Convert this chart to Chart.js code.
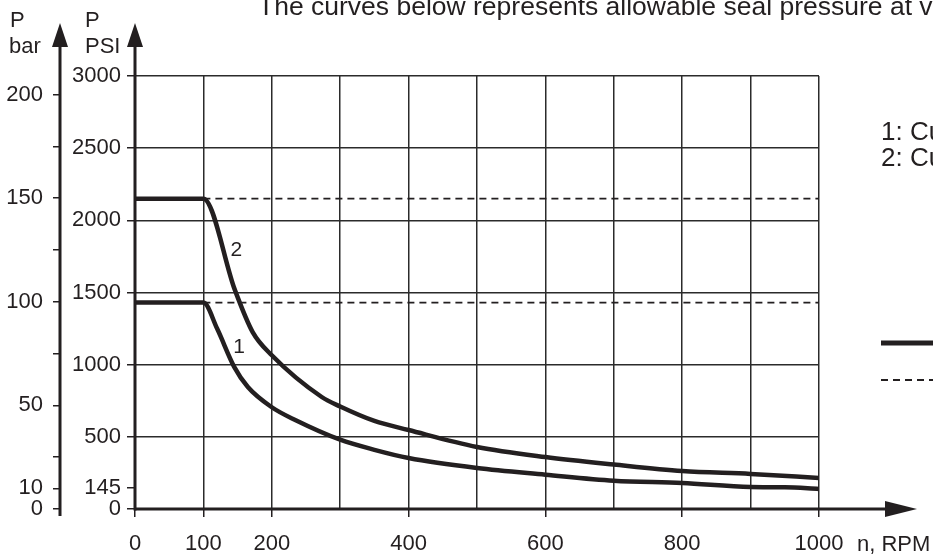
<!DOCTYPE html>
<html>
<head>
<meta charset="utf-8">
<script src="https://cdn.jsdelivr.net/npm/chart.js@4.4.1/dist/chart.umd.min.js"></script>
<style>
  html, body { margin: 0; padding: 0; background: #ffffff; }
  #wrap { width: 933px; height: 556px; position: relative; }
</style>
</head>
<body>
<div id="wrap"><canvas id="pressure-chart"></canvas></div>
<script>
// values
const rpm1 = [0, 100, 120, 145, 165, 200, 235, 300, 350, 400, 500, 600, 700, 800, 900, 950, 1000];
const psi1 = [1430, 1430, 1250, 985, 845, 705, 615, 480, 410, 353, 284, 238, 196, 180, 152, 150, 139];

const rpm2 = [0, 100, 146, 172, 200, 273, 300, 350, 400, 500, 600, 700, 800, 900, 1000];
const psi2 = [2150, 2150, 1518, 1226, 1065, 776, 710, 610, 547, 430, 360, 308, 263, 243, 215];

// dashed limit levels (PSI), drawn from 100 to 1000 RPM
const limitPsi = [1430, 2150];
const limitRpm = [100, 1000];

const xLabelled = [0, 100, 200, 400, 600, 800, 1000];
const psiTicks = [0, 145, 500, 1000, 1500, 2000, 2500, 3000];
const barTicks = [0, 10, 25, 50, 75, 100, 125, 150, 175, 200];
const barLabelled = [0, 10, 50, 100, 150, 200];

const curveTags = ['1', '2'];
const curveTagRpm = [152, 148];
const curveTagPsi = [1123, 1795];

const titleText = 'The curves below represents allowable seal pressure at v';
const legendTexts = ['1: Cu', '2: Cu'];

const INK = '#231f20';
const FONT = "'Liberation Sans', Arial, sans-serif";

function toPoints(xs, ys) {
  return xs.map((x, i) => ({ x: x, y: ys[i] }));
}

function arrow(ctx, tipX, tipY, dir) {
  ctx.beginPath();
  if (dir === 'up') {
    ctx.moveTo(tipX, tipY);
    ctx.lineTo(tipX - 8, tipY + 24);
    ctx.lineTo(tipX + 8, tipY + 24);
  } else {
    ctx.moveTo(tipX, tipY);
    ctx.lineTo(tipX - 32, tipY - 8);
    ctx.lineTo(tipX - 32, tipY + 8);
  }
  ctx.closePath();
  ctx.fill();
}

// axes with arrows, axis titles, curve numbers, clipped legend and title
const decorations = {
  id: 'decorations',
  afterDraw(chart) {
    const ctx = chart.ctx;
    const area = chart.chartArea;
    const xs = chart.scales.x;
    const ys = chart.scales.y;
    const barX = chart.scales.yBar.right;
    ctx.save();
    ctx.strokeStyle = INK;
    ctx.fillStyle = INK;
    ctx.lineWidth = 3;
    ctx.setLineDash([]);

    // PSI axis
    ctx.beginPath();
    ctx.moveTo(area.left, 44);
    ctx.lineTo(area.left, area.bottom + 1.5);
    ctx.stroke();
    arrow(ctx, area.left, 23, 'up');

    // bar axis
    ctx.beginPath();
    ctx.moveTo(barX, 44);
    ctx.lineTo(barX, area.bottom + 7);
    ctx.stroke();
    arrow(ctx, barX, 23, 'up');

    // RPM axis
    ctx.beginPath();
    ctx.moveTo(area.left, area.bottom);
    ctx.lineTo(888, area.bottom);
    ctx.stroke();
    arrow(ctx, 917, area.bottom, 'right');

    ctx.font = '22px ' + FONT;
    ctx.textBaseline = 'alphabetic';
    ctx.textAlign = 'left';
    ctx.fillText('P', 10, 27);
    ctx.fillText('bar', 9, 53);
    ctx.fillText('P', 85, 27);
    ctx.fillText('PSI', 85, 53);
    ctx.fillText('n, RPM', 857, 551);

    ctx.font = '26.5px ' + FONT;
    ctx.fillText(titleText, 258, 15);
    ctx.font = '26px ' + FONT;
    ctx.fillText(legendTexts[0], 881, 140);
    ctx.fillText(legendTexts[1], 881, 166);

    // curve numbers
    ctx.font = '21px ' + FONT;
    ctx.textAlign = 'center';
    ctx.textBaseline = 'middle';
    curveTags.forEach((t, i) => {
      ctx.fillText(t, xs.getPixelForValue(curveTagRpm[i]), ys.getPixelForValue(curveTagPsi[i]));
    });

    // legend line samples (cut by the right edge)
    ctx.lineWidth = 5;
    ctx.beginPath();
    ctx.moveTo(881, 343);
    ctx.lineTo(940, 343);
    ctx.stroke();
    ctx.lineWidth = 1.8;
    ctx.setLineDash([7, 5]);
    ctx.beginPath();
    ctx.moveTo(881, 380);
    ctx.lineTo(940, 380);
    ctx.stroke();
    ctx.restore();
  }
};

const curveStyle = {
  borderColor: INK,
  borderWidth: 4.5,
  pointRadius: 0,
  fill: false,
  cubicInterpolationMode: 'monotone'
};

const limitStyle = {
  borderColor: INK,
  borderWidth: 1.8,
  borderDash: [7, 5],
  pointRadius: 0,
  fill: false
};

const tickFont = { family: FONT, size: 22 };

new Chart(document.getElementById('pressure-chart'), {
  type: 'line',
  data: {
    datasets: [
      { ...limitStyle, label: 'limit 1', data: toPoints(limitRpm, [limitPsi[0], limitPsi[0]]) },
      { ...limitStyle, label: 'limit 2', data: toPoints(limitRpm, [limitPsi[1], limitPsi[1]]) },
      { ...curveStyle, label: 'Curve 1', data: toPoints(rpm1, psi1) },
      { ...curveStyle, label: 'Curve 2', data: toPoints(rpm2, psi2) }
    ]
  },
  options: {
    responsive: true,
    maintainAspectRatio: false,
    animation: false,
    layout: { padding: { top: 76, right: 114, bottom: 0, left: 0 } },
    plugins: { legend: { display: false }, tooltip: { enabled: false } },
    scales: {
      x: {
        type: 'linear',
        min: 0,
        max: 1000,
        border: { display: false },
        ticks: {
          stepSize: 100,
          color: INK,
          font: tickFont,
          padding: 14,
          maxRotation: 0,
          autoSkip: false,
          callback: v => xLabelled.includes(v) ? String(v) : ''
        },
        grid: {
          color: '#2b2b2b',
          lineWidth: 1.5,
          tickLength: 8,
          tickColor: c => (c.tick && xLabelled.includes(c.tick.value)) ? INK : 'rgba(0,0,0,0)'
        },
        afterFit: s => { s.height = 47; }
      },
      y: {
        type: 'linear',
        position: 'left',
        weight: 0,
        min: 0,
        max: 3000,
        border: { display: false },
        afterBuildTicks: s => { s.ticks = psiTicks.map(v => ({ value: v })); },
        ticks: {
          color: INK,
          font: tickFont,
          padding: 6,
          autoSkip: false,
          callback: v => String(v)
        },
        grid: {
          color: c => (c.tick && (c.tick.value === 145 || c.tick.value === 0)) ? 'rgba(0,0,0,0)' : '#2b2b2b',
          lineWidth: 1.5,
          tickLength: 8,
          tickColor: INK
        },
        afterFit: s => { s.width = 75; }
      },
      yBar: {
        type: 'linear',
        position: 'left',
        weight: 1,
        min: 0,
        max: 209,
        border: { display: false },
        afterBuildTicks: s => { s.ticks = barTicks.map(v => ({ value: v })); },
        ticks: {
          color: INK,
          font: tickFont,
          padding: 10,
          autoSkip: false,
          callback: v => barLabelled.includes(v) ? String(v) : ''
        },
        grid: {
          drawOnChartArea: false,
          lineWidth: 1.5,
          tickLength: 7,
          tickColor: INK
        },
        afterFit: s => { s.width = 60; }
      }
    }
  },
  plugins: [decorations]
});
</script>
</body>
</html>
